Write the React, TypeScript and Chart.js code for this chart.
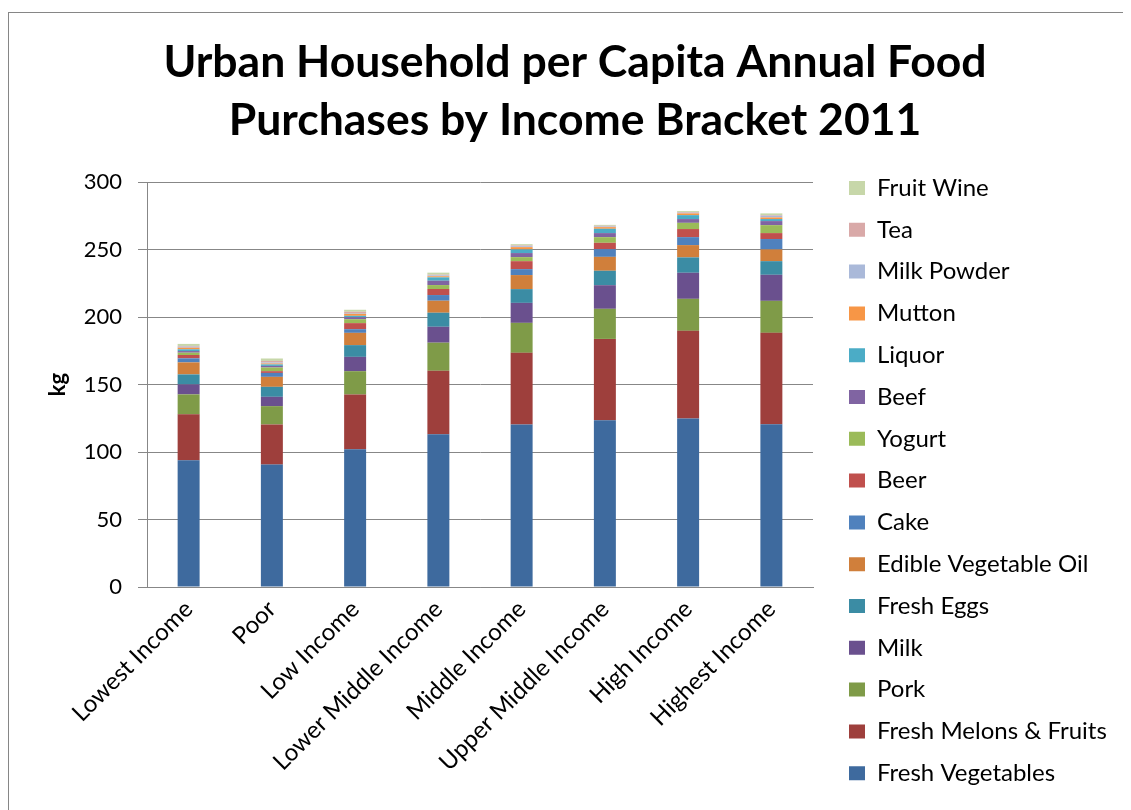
import React, { useEffect, useRef } from "react";
import { Chart, registerables } from "chart.js";

Chart.register(...registerables);

const categories = [
  "Lowest Income",
  "Poor",
  "Low Income",
  "Lower Middle Income",
  "Middle Income",
  "Upper Middle Income",
  "High Income",
  "Highest Income",
];

const freshVegetables = [93.9, 90.7, 102, 113.2, 120.4, 123.6, 124.8, 120.6];
const freshMelonsFruits = [34, 29.7, 40.6, 47, 53.1, 60.2, 65, 67.7];
const pork = [14.8, 13.6, 17.3, 20.8, 22.2, 22.3, 23.7, 23.7];
const milk = [7.4, 6.9, 10.6, 11.8, 14.8, 17.5, 19.3, 19.3];
const freshEggs = [7.4, 7.4, 8.7, 10.4, 10.2, 10.7, 11.4, 10.1];
const edibleVegetableOil = [8.9, 7.4, 9.1, 8.9, 10.4, 10.3, 9.1, 8.7];
const cake = [3, 2.9, 2.7, 4.2, 4.4, 5.7, 5.9, 7.7];
const beer = [2.5, 1.3, 4.5, 4.5, 5.9, 4.7, 6.0, 4.4];
const yogurt = [1.7, 2.7, 2.9, 2.9, 3.0, 4.2, 4.6, 5.9];
const beef = [1.2, 1.2, 1.5, 3.2, 3.0, 3.0, 2.8, 3.0];
const liquor = [1.3, 1.1, 1.0, 2.5, 2.7, 3.2, 2.9, 1.5];
const mutton = [1.2, 0.7, 1.5, 0.8, 1.7, 1.2, 1.3, 1.2];
const milkPowder = [0.8, 0.7, 0.5, 0.7, 0.7, 0.5, 0.5, 1.2];
const tea = [0.5, 1.2, 1.0, 0.5, 0.5, 0.5, 0.5, 0.5];
const fruitWine = [1.5, 1.8, 1.5, 1.5, 1.0, 0.7, 0.7, 1.3];

const seriesNames = [
  "Fresh Vegetables",
  "Fresh Melons & Fruits",
  "Pork",
  "Milk",
  "Fresh Eggs",
  "Edible Vegetable Oil",
  "Cake",
  "Beer",
  "Yogurt",
  "Beef",
  "Liquor",
  "Mutton",
  "Milk Powder",
  "Tea",
  "Fruit Wine",
];

const seriesValues = [
  freshVegetables,
  freshMelonsFruits,
  pork,
  milk,
  freshEggs,
  edibleVegetableOil,
  cake,
  beer,
  yogurt,
  beef,
  liquor,
  mutton,
  milkPowder,
  tea,
  fruitWine,
];

const seriesColors = [
  "#3E6A9E",
  "#9E3F3C",
  "#7F9B48",
  "#6A508E",
  "#3B8CA4",
  "#D07F3B",
  "#4F81BD",
  "#C0504D",
  "#9BBB59",
  "#8064A2",
  "#4BACC6",
  "#F79646",
  "#AAB9D9",
  "#D9A9A8",
  "#C7D7A9",
];

const yTicks = [0, 50, 100, 150, 200, 250, 300];

const FONT = "Lato, 'Open Sans', sans-serif";
const GRID = "#878787";
const W = 1132;
const H = 790;
const PLOT_RIGHT = 804; // canvas px
const GAP = 18.2;

export default function App() {
  const canvasRef = useRef<HTMLCanvasElement | null>(null);

  useEffect(() => {
    const canvas = canvasRef.current;
    if (!canvas) return;
    Chart.defaults.font.family = FONT;

    const chart = new Chart(canvas, {
      type: "bar",
      data: {
        labels: categories,
        datasets: seriesNames.map((name, i) => ({
          label: name,
          data: seriesValues[i],
          backgroundColor: seriesColors[i],
          borderWidth: 0,
          barPercentage: 0.264,
          categoryPercentage: 1,
        })),
      },
      options: {
        responsive: false,
        animation: false,
        layout: { padding: 0 },
        plugins: {
          title: {
            display: true,
            text: [
              "Urban Household per Capita Annual Food",
              "Purchases by Income Bracket 2011",
            ],
            color: "#000",
            font: { family: FONT, size: 44.5, weight: "bold", lineHeight: 1.293 },
            padding: { top: 21, bottom: 33 },
          },
          legend: {
            display: true,
            position: "right",
            align: "end",
            reverse: true,
            maxWidth: 600,
            labels: {
              boxWidth: 16,
              boxHeight: 14,
              padding: 17.8,
              color: "#000",
              font: { family: FONT, size: 24 },
            },
          },
          tooltip: { enabled: false },
        },
        scales: {
          x: {
            stacked: true,
            grid: { display: false, drawTicks: false },
            border: { display: true, color: GRID, width: 1 },
            ticks: {
              autoSkip: false,
              minRotation: 45,
              maxRotation: 45,
              padding: 8,
              color: "#000",
              font: { family: FONT, size: 24 },
            },
            afterFit: (s: any) => {
              s.height = 216;
            },
          },
          y: {
            stacked: true,
            min: 0,
            max: 300,
            afterBuildTicks: (s: any) => {
              s.ticks = yTicks.map((v) => ({ value: v }));
            },
            grid: { color: GRID, lineWidth: 1, tickLength: 9, drawTicks: true },
            border: { display: true, color: GRID, width: 1 },
            ticks: {
              padding: 16,
              color: "#000",
              font: { family: FONT, size: 22 },
            },
            title: {
              display: true,
              text: "kg",
              color: "#000",
              font: { family: FONT, size: 22, weight: "bold" },
              padding: { top: 36, bottom: 0 },
            },
            afterFit: (s: any) => {
              s.width = 138;
            },
          },
          gapRight: {
            type: "linear",
            position: "right",
            weight: 0,
            display: true,
            grid: { display: false, drawTicks: false },
            border: { display: false },
            ticks: { display: false },
            afterFit: (s: any) => {
              s.width = GAP;
            },
          },
          outerRight: {
            type: "linear",
            position: "right",
            weight: 2000,
            display: true,
            grid: { display: false, drawTicks: false },
            border: { display: false },
            ticks: { display: false },
            afterFit: (s: any) => {
              const lg: any = s.chart.legend;
              const lw = lg && lg.width ? lg.width : 300;
              s.width = Math.max(0, W - PLOT_RIGHT - GAP - lw);
            },
          },
        },
      } as any,
    });
    return () => chart.destroy();
  }, []);

  return (
    <div
      style={{
        position: "relative",
        width: 1123,
        height: 802,
        overflow: "hidden",
        background: "#fff",
      }}
    >
      <div
        style={{
          position: "absolute",
          left: 0,
          top: 4,
          width: 1300,
          height: 1000,
          border: "1px solid #868686",
          boxSizing: "border-box",
        }}
      />
      <canvas
        ref={canvasRef}
        width={W}
        height={H}
        style={{ position: "absolute", left: 1, top: 5, width: W, height: H }}
      />
    </div>
  );
}
